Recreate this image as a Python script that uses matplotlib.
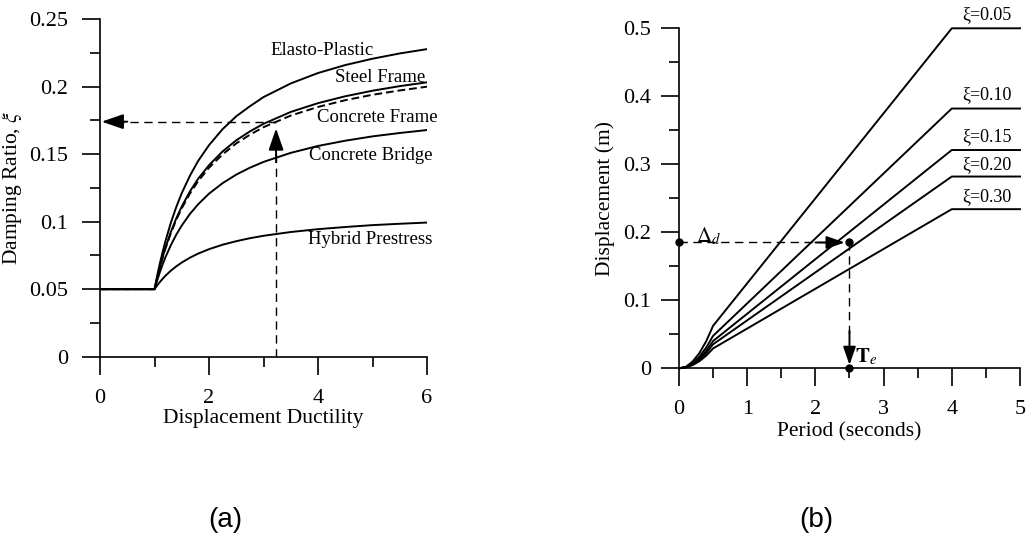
import numpy as np
import matplotlib
matplotlib.use("Agg")
import matplotlib.pyplot as plt
from matplotlib.ticker import MultipleLocator, FixedFormatter, FixedLocator

plt.rcParams['font.family'] = ['Liberation Serif', 'DejaVu Serif']
plt.rcParams['mathtext.fontset'] = 'stix'

# (a) damping ratio vs displacement ductility
ductility = [0, 1.0, 1.05, 1.1, 1.15, 1.2, 1.3, 1.4, 1.5, 1.65, 1.8, 2.0, 2.25, 2.5, 2.75,
             3.0, 3.5, 4.0, 4.5, 5.0, 5.5, 6.0]
elasto_plastic = [0.05, 0.05, 0.0602, 0.0694, 0.0778, 0.0855, 0.0992, 0.1109, 0.1211,
                  0.1340, 0.1449, 0.1566, 0.1685, 0.1780, 0.1854, 0.1922, 0.2023,
                  0.2100, 0.2159, 0.2206, 0.2245, 0.2277]
steel_frame = [0.05, 0.05, 0.0587, 0.0667, 0.0739, 0.0806, 0.0924, 0.1025, 0.1112,
               0.1224, 0.1317, 0.1418, 0.1520, 0.1602, 0.1668, 0.1724, 0.1812,
               0.1877, 0.1928, 0.1969, 0.2003, 0.2031]
concrete_frame = [0.05, 0.05, 0.0586, 0.0664, 0.0735, 0.0800, 0.0915, 0.1014, 0.1099,
                  0.1208, 0.1299, 0.1399, 0.1498, 0.1579, 0.1643, 0.1699, 0.1785,
                  0.1849, 0.1899, 0.1939, 0.1971, 0.1999]
concrete_bridge = [0.05, 0.05, 0.0567, 0.0628, 0.0684, 0.0736, 0.0826, 0.0904, 0.0971,
                   0.1057, 0.1128, 0.1207, 0.1285, 0.1348, 0.1399, 0.1442, 0.1509,
                   0.1560, 0.1599, 0.1631, 0.1656, 0.1678]
hybrid_prestress = [0.05, 0.05, 0.0528, 0.0554, 0.0577, 0.0599, 0.0637, 0.0669, 0.0697,
                    0.0733, 0.0763, 0.0796, 0.0829, 0.0855, 0.0877, 0.0895, 0.0923,
                    0.0944, 0.0960, 0.0974, 0.0984, 0.0993]
design_ductility = 3.23
design_damping = 0.174

# (b) displacement spectra for several damping ratios
period = [0, 0.1, 0.2, 0.3, 0.4, 0.5, 4.0, 5.0]
disp_005 = [0, 0.0020, 0.0100, 0.0225, 0.0400, 0.0625, 0.500, 0.500]
disp_010 = [0, 0.0017, 0.0077, 0.0172, 0.0306, 0.0477, 0.382, 0.382]
disp_015 = [0, 0.0015, 0.0065, 0.0144, 0.0257, 0.0401, 0.321, 0.321]
disp_020 = [0, 0.0014, 0.0057, 0.0127, 0.0226, 0.0353, 0.282, 0.282]
disp_030 = [0, 0.0012, 0.0047, 0.0105, 0.0187, 0.0292, 0.234, 0.234]
spectrum_labels = ['ξ=0.05', 'ξ=0.10', 'ξ=0.15', 'ξ=0.20', 'ξ=0.30']
design_disp = 0.185
design_period = 2.5

fig = plt.figure(figsize=(10.28, 5.35), dpi=100)
ax1 = fig.add_axes([0.0973, 0.3333, 0.3181, 0.6312])
ax2 = fig.add_axes([0.6605, 0.3116, 0.3317, 0.6355])

lw = 1.4
for ax in (ax1, ax2):
    ax.spines['top'].set_visible(False)
    ax.spines['right'].set_visible(False)
    ax.spines['left'].set_linewidth(1.2)
    ax.spines['bottom'].set_linewidth(1.2)
    ax.tick_params(which='major', direction='out', length=13, width=1.2, labelsize=16)
    ax.tick_params(which='minor', direction='out', length=7, width=1.2)
    ax.tick_params(axis='x', which='major', pad=10)
    ax.tick_params(axis='y', which='major', pad=7)
ax1.tick_params(axis='y', which='major', pad=10)

# ---- panel (a)
ax1.plot(ductility, elasto_plastic, color='black', lw=lw)
ax1.plot(ductility, steel_frame, color='black', lw=lw)
ax1.plot(ductility, concrete_frame, color='black', lw=lw, ls=(0, (4, 2)))
ax1.plot(ductility, concrete_bridge, color='black', lw=lw)
ax1.plot(ductility, hybrid_prestress, color='black', lw=lw)

ax1.set_xlim(0, 6)
ax1.set_ylim(0, 0.25)
ax1.xaxis.set_major_locator(MultipleLocator(2))
ax1.xaxis.set_minor_locator(MultipleLocator(1))
ax1.yaxis.set_major_locator(FixedLocator([0, 0.05, 0.1, 0.15, 0.2, 0.25]))
ax1.yaxis.set_major_formatter(FixedFormatter(['0', '0.05', '0.1', '0.15', '0.2', '0.25']))
ax1.yaxis.set_minor_locator(MultipleLocator(0.025))
ax1.set_xlabel('Displacement Ductility', fontsize=15.5, labelpad=1)
ax1.set_ylabel('Damping Ratio, $\\xi$', fontsize=15.5, labelpad=4)

lab_kw = dict(fontsize=13.5, ha='center', va='center')
ax1.text(4.07, 0.227, 'Elasto-Plastic', **lab_kw)
ax1.text(5.14, 0.2068, 'Steel Frame', **lab_kw)
ax1.text(5.09, 0.1772, 'Concrete Frame', **lab_kw)
ax1.text(4.97, 0.1486, 'Concrete Bridge', **lab_kw)
ax1.text(4.95, 0.0864, 'Hybrid Prestress', **lab_kw)

dash = (0, (6, 4))
head = dict(arrowstyle='-|>,head_length=1.1,head_width=0.38', color='black', lw=lw,
            mutation_scale=12, shrinkA=0, shrinkB=0)
small_head = dict(arrowstyle='-|>,head_length=1.0,head_width=0.35', color='black', lw=lw,
                  mutation_scale=11, shrinkA=0, shrinkB=0)
ax1.plot([design_ductility, design_ductility], [0, design_damping - 0.01], color='black', lw=1.0, ls=dash)
ax1.annotate('', xy=(design_ductility, design_damping - 0.005),
             xytext=(design_ductility, design_damping - 0.03), arrowprops=head)
ax1.plot([0.3, design_ductility], [design_damping, design_damping], color='black', lw=1.0, ls=dash)
ax1.annotate('', xy=(0.03, design_damping), xytext=(0.5, design_damping), arrowprops=head)

# ---- panel (b)
for d in (disp_005, disp_010, disp_015, disp_020, disp_030):
    ax2.plot(period, d, color='black', lw=lw, clip_on=False)

ax2.set_xlim(0, 5)
ax2.set_ylim(0, 0.5)
ax2.xaxis.set_major_locator(MultipleLocator(1))
ax2.xaxis.set_minor_locator(MultipleLocator(0.5))
ax2.yaxis.set_major_locator(FixedLocator([0, 0.1, 0.2, 0.3, 0.4, 0.5]))
ax2.yaxis.set_major_formatter(FixedFormatter(['0', '0.1', '0.2', '0.3', '0.4', '0.5']))
ax2.yaxis.set_minor_locator(MultipleLocator(0.05))
ax2.set_xlabel('Period (seconds)', fontsize=15.5, labelpad=2)
ax2.set_ylabel('Displacement (m)', fontsize=15.5, labelpad=6)

for lbl, yl in zip(spectrum_labels, [0.5196, 0.402, 0.341, 0.300, 0.252]):
    ax2.text(4.51, yl, lbl, fontsize=13, ha='center', va='center')

ax2.plot([0, design_period], [design_disp, design_disp], color='black', lw=1.0, ls=dash)
ax2.annotate('', xy=(2.43, design_disp), xytext=(2.0, design_disp), arrowprops=small_head)
ax2.plot([design_period, design_period], [design_disp, 0.05], color='black', lw=1.0, ls=dash)
ax2.annotate('', xy=(design_period, 0.005), xytext=(design_period, 0.055), arrowprops=small_head)
ax2.plot([0, design_period, design_period], [design_disp, design_disp, 0], 'o', color='black',
         ms=5, clip_on=False, zorder=5)
ax2.text(0.43, 0.1935, '$\\Delta_d$', fontsize=15, ha='center', va='center')
ax2.text(2.58, 0.016, '$\\mathbf{T}_e$', fontsize=15, ha='left', va='center')

fig.text(0.2189, 0.028, '(a)', fontsize=20, family='Liberation Sans', ha='center', va='center')
fig.text(0.7945, 0.028, '(b)', fontsize=20, family='Liberation Sans', ha='center', va='center')

fig.savefig('out.png', dpi=100)
